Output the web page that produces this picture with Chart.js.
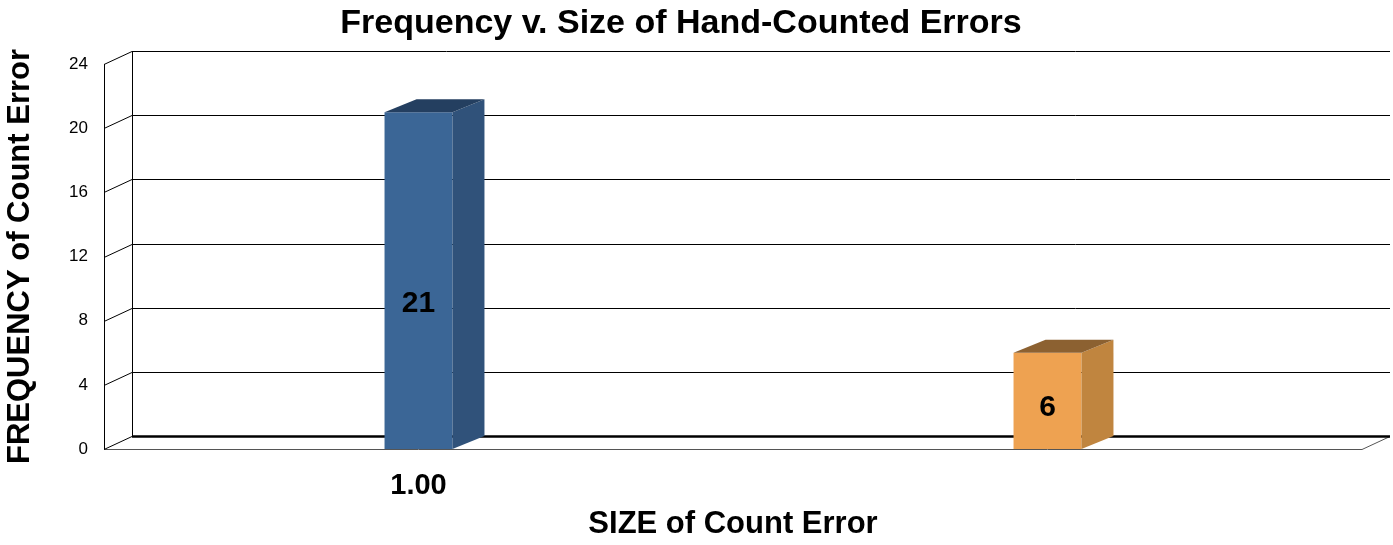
<!DOCTYPE html>
<html lang="en">
<head>
<meta charset="UTF-8">
<title>Frequency v. Size of Hand-Counted Errors</title>
<script src="https://cdn.jsdelivr.net/npm/chart.js"></script>
<style>
  html, body { margin: 0; padding: 0; background: #fff; }
  .graphique { width: 1393px; height: 545px; }
</style>
</head>
<body>
<div class="graphique"><canvas id="graphiqueErreurs"></canvas></div>

<script>
// donnees
const categories = ['1.00', ''];
const frequences = [21, 6];
const yMin = 0, yMax = 24, yPas = 4;

// couleurs : face avant, cote, dessus
const couleursFace = ['#3b6696', '#eea251'];
const couleursCote = ['#30527a', '#c0853f'];
const couleursDessus = ['#243f60', '#8c6131'];

const police = "'Liberation Sans', Arial, sans-serif";
const murDx = 28, murDy = -13;   // profondeur des murs
const barreDx = 32, barreDy = -13; // profondeur des barres

function ligne(ctx, pts) {
    ctx.beginPath();
    ctx.moveTo(pts[0][0], pts[0][1]);
    for (let i = 1; i < pts.length; i++) ctx.lineTo(pts[i][0], pts[i][1]);
    ctx.stroke();
}

function poly(ctx, pts, couleur) {
    ctx.beginPath();
    ctx.moveTo(pts[0][0], pts[0][1]);
    for (let i = 1; i < pts.length; i++) ctx.lineTo(pts[i][0], pts[i][1]);
    ctx.closePath();
    ctx.fillStyle = couleur;
    ctx.fill();
}

// murs et grille en "3D" facon Excel
const pluginMurs = {
    id: 'murs',
    beforeDatasetsDraw(chart) {
        const ctx = chart.ctx, a = chart.chartArea, y = chart.scales.y;
        ctx.save();
        ctx.strokeStyle = '#000';
        ctx.lineWidth = 1;
        y.ticks.forEach(t => {
            const py = Math.round(y.getPixelForValue(t.value)) + 0.5;
            if (t.value === yMin) return;
            ligne(ctx, [[a.left, py], [a.left + murDx, py + murDy], [a.right + murDx, py + murDy]]);
        });
        // bords du mur gauche
        ligne(ctx, [[a.left + 0.5, a.top], [a.left + 0.5, a.bottom]]);
        ligne(ctx, [[a.left + murDx + 0.5, a.top + murDy], [a.left + murDx + 0.5, a.bottom + murDy]]);
        // sol
        const b = Math.round(a.bottom) + 0.5;
        ctx.strokeStyle = '#555';
        ligne(ctx, [[a.left, b], [a.right, b], [a.right + murDx, b + murDy]]);
        ctx.strokeStyle = '#000';
        ligne(ctx, [[a.left, b], [a.left + murDx, b + murDy]]);
        ctx.lineWidth = 2.5;
        ligne(ctx, [[a.left + murDx, b + murDy], [a.right + murDx, b + murDy]]);
        ctx.restore();
    },
    afterDatasetsDraw(chart) {
        const ctx = chart.ctx;
        const meta = chart.getDatasetMeta(0);
        ctx.save();
        meta.data.forEach((barre, i) => {
            const p = barre.getProps(['x', 'y', 'base', 'width'], true);
            const g = p.x - p.width / 2, d = p.x + p.width / 2;
            poly(ctx, [[d, p.y], [d + barreDx, p.y + barreDy], [d + barreDx, p.base + barreDy], [d, p.base]], couleursCote[i]);
            poly(ctx, [[g, p.y], [g + barreDx, p.y + barreDy], [d + barreDx, p.y + barreDy], [d, p.y]], couleursDessus[i]);
            ctx.fillStyle = '#000';
            ctx.font = 'bold 30px ' + police;
            ctx.textAlign = 'center';
            ctx.textBaseline = 'middle';
            ctx.fillText(String(frequences[i]), p.x, p.y + (p.base - p.y) * 0.57);
        });
        ctx.restore();
    }
};

new Chart(document.getElementById('graphiqueErreurs').getContext('2d'), {
    type: 'bar',
    data: {
        labels: categories,
        datasets: [{
            label: 'Frequency',
            data: frequences,
            backgroundColor: couleursFace,
            borderWidth: 0,
            barPercentage: 0.108,
            categoryPercentage: 1
        }]
    },
    options: {
        responsive: true,
        maintainAspectRatio: false,
        animation: false,
        layout: { padding: { left: 0, right: 31, top: 0, bottom: 0 } },
        plugins: {
            legend: { display: false },
            tooltip: { enabled: false },
            title: {
                display: true,
                text: 'Frequency v. Size of Hand-Counted Errors',
                color: '#000',
                font: { family: police, size: 34, weight: 'bold', lineHeight: 1.2 },
                padding: { top: 3, bottom: 20.2 }
            }
        },
        scales: {
            x: {
                grid: { display: false, drawTicks: false },
                border: { display: false },
                ticks: { color: '#000', padding: 20, font: { family: police, size: 29, weight: 'bold' } },
                title: {
                    display: true,
                    text: 'SIZE of Count Error',
                    color: '#000',
                    font: { family: police, size: 31, weight: 'bold', lineHeight: 1.2 },
                    padding: { top: 0, bottom: 2 }
                },
                afterFit(scale) { scale.height = 96; }
            },
            y: {
                min: yMin,
                max: yMax,
                grid: { display: false, drawTicks: false },
                border: { display: false },
                ticks: { stepSize: yPas, color: '#000', padding: 16, font: { family: police, size: 17 } },
                title: {
                    display: true,
                    text: 'FREQUENCY of Count Error',
                    color: '#000',
                    font: { family: police, size: 31, weight: 'bold', lineHeight: 1.2 },
                    padding: { top: 2, bottom: 0 }
                },
                afterFit(scale) { scale.width = 104; }
            }
        }
    },
    plugins: [pluginMurs]
});
</script>
</body>
</html>
